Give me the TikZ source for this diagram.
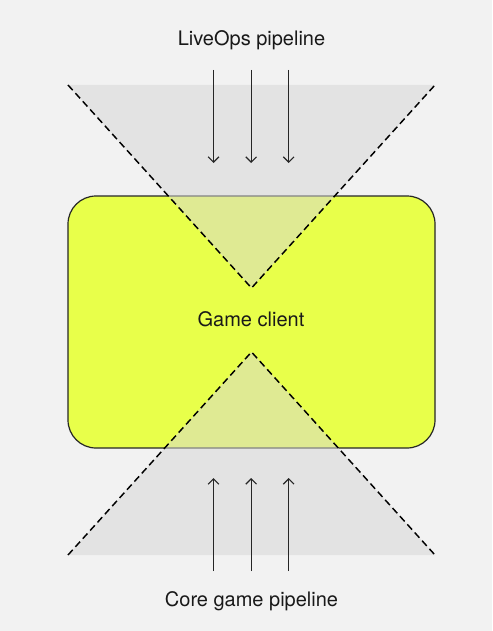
\documentclass[tikz,border=0pt]{standalone}
\usepackage{fontspec}
\setmainfont{TeX Gyre Heros}
\usetikzlibrary{arrows.meta}
\definecolor{bg}{HTML}{F2F2F2}
\definecolor{funnel}{HTML}{D7D7D7}
\definecolor{lime}{HTML}{E8FF4A}
\begin{document}
\begin{tikzpicture}[x=0.75pt,y=-0.75pt,
  lbl/.style={font=\fontsize{15}{18}\selectfont, text=black!90, inner sep=0pt, anchor=base},
  funnelshape/.style={fill=funnel, fill opacity=0.52, draw=none},
  edgeline/.style={draw=black, line width=1.1pt, dash pattern=on 5.25pt off 3pt},
  feed/.style={draw=black!85, line width=0.9pt, -{Straight Barb[length=4pt,width=8pt]}},
  clientbox/.style={draw=black!85, line width=0.9pt, fill=lime, rounded corners=21pt,
    minimum width=275.25pt, minimum height=189pt, inner sep=0pt}]
\fill[bg] (0,0) rectangle (492,631);
\useasboundingbox (0,0) rectangle (492,631);

\node[clientbox] (client) at (251.5,322) {};

\coordinate (tl) at (68,85);
\coordinate (tr) at (435,85);
\coordinate (ta) at (251.5,288);
\coordinate (bl) at (68,555);
\coordinate (br) at (435,555);
\coordinate (ba) at (251.5,352);

\fill[funnelshape] (tl) -- (tr) -- (ta) -- cycle;
\fill[funnelshape] (bl) -- (br) -- (ba) -- cycle;
\draw[edgeline] (tl) -- (ta) -- (tr);
\draw[edgeline] (bl) -- (ba) -- (br);

\node[lbl] (live) at (251.5,46) {LiveOps pipeline};
\node[lbl] (gc) at (251,326) {Game client};
\node[lbl] (core) at (251.5,606) {Core game pipeline};

\foreach \i/\x in {1/213.5,2/251.2,3/288.7}{
  \coordinate (ts\i) at (\x,70);
  \coordinate (te\i) at (\x,163);
  \coordinate (bs\i) at (\x,571);
  \coordinate (be\i) at (\x,478);
  \draw[feed] (ts\i) -- (te\i);
  \draw[feed] (bs\i) -- (be\i);
}
\end{tikzpicture}
\end{document}
